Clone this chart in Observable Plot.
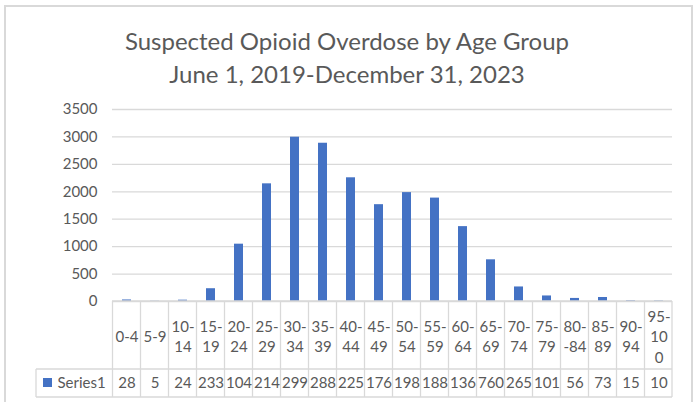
<!DOCTYPE html>
<html>
<head>
<meta charset="utf-8">
<script src="https://cdn.jsdelivr.net/npm/d3@7"></script>
<script src="https://cdn.jsdelivr.net/npm/@observablehq/plot@0.6"></script>
<style>
  html, body { margin: 0; padding: 0; background: #fff; }
  #wrap { position: relative; width: 694px; height: 402px; overflow: hidden; background: #fff; font-family: Lato, "Open Sans", sans-serif; }
  #frame { position: absolute; left: 4px; top: 5px; width: 689px; height: 430px; border: 2px solid #d9d9d9; box-sizing: border-box; }
  #title { position: absolute; left: 0; top: 24px; width: 694px; text-align: center; color: #595959; font-size: 24px; line-height: 33px; font-weight: 400; }
  #chart { position: absolute; left: 0; top: 100px; }
</style>
</head>
<body>
<div id="wrap">
  <div id="frame"></div>
  <div id="title">Suspected Opioid Overdose by Age Group<br>June 1, 2019-December 31, 2023</div>
  <div id="chart"></div>
</div>
<script>
// ---- data ----
const ageGroups = ["0-4","5-9","10-14","15-19","20-24","25-29","30-34","35-39","40-44","45-49",
                   "50-54","55-59","60-64","65-69","70-74","75-79","80--84","85-89","90-94","95-100"];
// tick labels as wrapped in the reference's data table header
const ageLabels = ["0-4","5-9","10-\n14","15-\n19","20-\n24","25-\n29","30-\n34","35-\n39","40-\n44","45-\n49",
                   "50-\n54","55-\n59","60-\n64","65-\n69","70-\n74","75-\n79","80-\n-84","85-\n89","90-\n94","95-\n10\n0"];
const overdoses = [28, 5, 24, 233, 1045, 2145, 2995, 2885, 2255, 1765,
                   1985, 1885, 1365, 760, 265, 101, 56, 73, 15, 10];
const seriesName = "Series1";
const yTicks = [0, 500, 1000, 1500, 2000, 2500, 3000, 3500];

const data = ageGroups.map((g, i) => ({group: g, label: ageLabels[i], value: overdoses[i]}));

const gray = "#595959";
const lineGray = "#d9d9d9";
const blue = "#4472C4";

// data-table grid drawn with Plot's x scale
function tableMark(index, scales, values, dim) {
  const x = scales.x;
  const step = x.step ? x.step() : (dim.width - dim.marginLeft - dim.marginRight) / ageGroups.length;
  const bw = x.bandwidth ? x.bandwidth() : step * 0.32;
  const y0 = dim.height - dim.marginBottom;
  const right = dim.width - dim.marginRight;
  const left = dim.marginLeft;
  const legendLeft = left - 76;
  const g = d3.create("svg:g");
  const lines = g.append("g").attr("stroke", lineGray).attr("stroke-width", 1.3).attr("fill", "none");
  const bounds = ageGroups.map(d => x(d) + bw / 2 - step / 2).concat([right]);
  bounds.forEach(b => lines.append("line").attr("x1", b).attr("x2", b).attr("y1", y0).attr("y2", y0 + 96));
  lines.append("line").attr("x1", legendLeft).attr("x2", legendLeft).attr("y1", y0 + 68).attr("y2", y0 + 96);
  lines.append("line").attr("x1", left).attr("x2", right).attr("y1", y0).attr("y2", y0);
  lines.append("line").attr("x1", legendLeft).attr("x2", right).attr("y1", y0 + 68).attr("y2", y0 + 68);
  lines.append("line").attr("x1", legendLeft).attr("x2", right).attr("y1", y0 + 96).attr("y2", y0 + 96);
  g.append("rect").attr("x", legendLeft + 7).attr("y", y0 + 77).attr("width", 9).attr("height", 9).attr("fill", blue);
  return g.node();
}

const chart = Plot.plot({
  width: 694,
  height: 302,
  marginLeft: 112,
  marginRight: 22,
  marginTop: 9,
  marginBottom: 101,
  style: {fontFamily: "Lato, 'Open Sans', sans-serif", fontSize: "15px", color: gray, background: "transparent", overflow: "visible"},
  x: {domain: ageGroups, paddingInner: 0.68, paddingOuter: 0.34, axis: null, label: null},
  y: {domain: [0, 3500], axis: null, label: null},
  marks: [
    Plot.gridY(yTicks, {stroke: lineGray, strokeOpacity: 1, strokeWidth: 1.3}),
    Plot.axisY(yTicks, {tickSize: 0, tickPadding: 15, fontSize: 15, fill: gray, label: null, tickFormat: d => String(d)}),
    Plot.barY(data, {x: "group", y: "value", fill: blue}),
    tableMark,
    Plot.text(data, {x: "group", text: "label", frameAnchor: "bottom", dy: 34, lineAnchor: "middle", lineHeight: 1.37, fill: gray, fontSize: 15}),
    // values as shown (clipped to the narrow cells) in the reference's data table
    Plot.text(data, {x: "group", text: d => String(d.value).slice(0, 3), frameAnchor: "bottom", dy: 82, lineAnchor: "middle", fill: gray, fontSize: 15}),
    Plot.text([seriesName], {text: d => d, frameAnchor: "bottom-left", dx: -55, dy: 82, textAnchor: "start", lineAnchor: "middle", fill: gray, fontSize: 15})
  ]
});
document.getElementById("chart").appendChild(chart);
</script>
</body>
</html>
